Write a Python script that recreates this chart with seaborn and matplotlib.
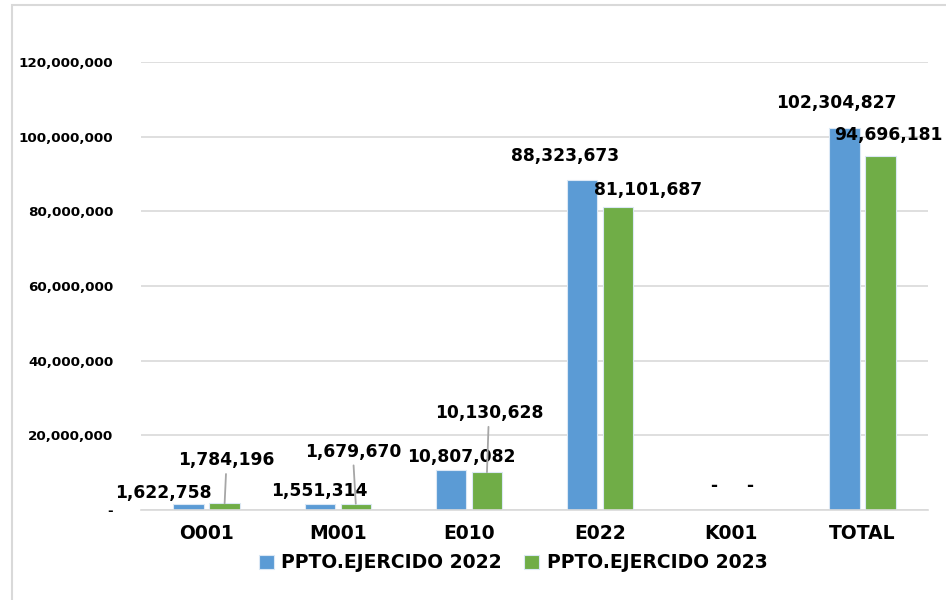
import pandas as pd
import matplotlib.pyplot as plt
import seaborn as sns
from matplotlib.patches import Rectangle
from matplotlib.ticker import FuncFormatter

categories = ["O001", "M001", "E010", "E022", "K001", "TOTAL"]
ppto_2022 = [1622758, 1551314, 10807082, 88323673, 0, 102304827]
ppto_2023 = [1784196, 1679670, 10130628, 81101687, 0, 94696181]
series = ["PPTO.EJERCIDO 2022", "PPTO.EJERCIDO 2023"]

# label offsets from the bar top, in pixels (dx, dy)
off_2022 = [(-25, 11), (0, 13), (10, 13), (-17, 24), (0, 24), (-8, 25)]
off_2023 = [(2, 43), (-3, 52), (2, 59), (30, 17), (0, 24), (8, 21)]
leader_2023 = [True, True, True, False, False, False]

df = pd.DataFrame({
    "cat": categories * 2,
    "value": ppto_2022 + ppto_2023,
    "serie": [series[0]] * len(categories) + [series[1]] * len(categories),
})

sns.set_style("white")
plt.rcParams["font.family"] = ["DejaVu Sans"]
plt.rcParams["text.color"] = "black"
plt.rcParams["xtick.color"] = "black"
plt.rcParams["ytick.color"] = "black"

fig = plt.figure(figsize=(9.46, 6), dpi=100)
ax = fig.add_axes([141 / 946, 1 - 510 / 600, (928 - 141) / 946, (510 - 62) / 600])

sns.barplot(data=df, x="cat", y="value", hue="serie", order=categories,
            palette=["#5B9BD5", "#70AD47"], saturation=1, width=0.55, gap=0.16,
            edgecolor="#dbe8f5", linewidth=0.8, ax=ax)

ax.set_ylim(0, 120_000_000)
ax.set_yticks(range(0, 120_000_001, 20_000_000))
ax.yaxis.set_major_formatter(FuncFormatter(lambda v, p: "-" if v == 0 else f"{v:,.0f}"))
ax.grid(axis="y", color="#d9d9d9", lw=1.2)
ax.set_axisbelow(True)
for s in ["top", "right", "left"]:
    ax.spines[s].set_visible(False)
ax.spines["bottom"].set_color("#d9d9d9")
ax.spines["bottom"].set_linewidth(1.2)
ax.tick_params(axis="y", length=0, pad=20, labelsize=9.7, labelcolor="black")
ax.tick_params(axis="x", length=0, pad=10, labelsize=13.5, labelcolor="black")
for t in ax.get_yticklabels() + ax.get_xticklabels():
    t.set_fontweight("bold")
ax.set_xlabel("")
ax.set_ylabel("")

px = 72 / 100
for cont, vals, offs, lead in [
    (ax.containers[0], ppto_2022, off_2022, [False] * 6),
    (ax.containers[1], ppto_2023, off_2023, leader_2023),
]:
    for bar, v, (dx, dy), ld in zip(cont, vals, offs, lead):
        x = bar.get_x() + bar.get_width() / 2
        txt = "-" if v == 0 else f"{v:,.0f}"
        arrow = dict(arrowstyle="-", color="#a6a6a6", lw=1.3, shrinkA=1, shrinkB=0) if ld else None
        ax.annotate(txt, xy=(x, v), xytext=(dx * px, dy * px), textcoords="offset points",
                    ha="center", va="center", fontsize=12.3, fontweight="bold",
                    color="black", arrowprops=arrow)

handles, labels = ax.get_legend_handles_labels()
ax.get_legend().remove()
fig.legend(handles, labels, loc="center", bbox_to_anchor=(513 / 946, 1 - 563 / 600), ncol=2,
           frameon=False, handlelength=0.8, handleheight=0.8, handletextpad=0.4,
           columnspacing=1.2, prop={"size": 13.5, "weight": "bold"})

fig.patches.append(Rectangle((12 / 946, -0.05), 1.0, 1 - 5 / 600 + 0.05, transform=fig.transFigure,
                             fill=False, edgecolor="#d9d9d9", lw=1.5))

fig.savefig("out.png", dpi=100)
